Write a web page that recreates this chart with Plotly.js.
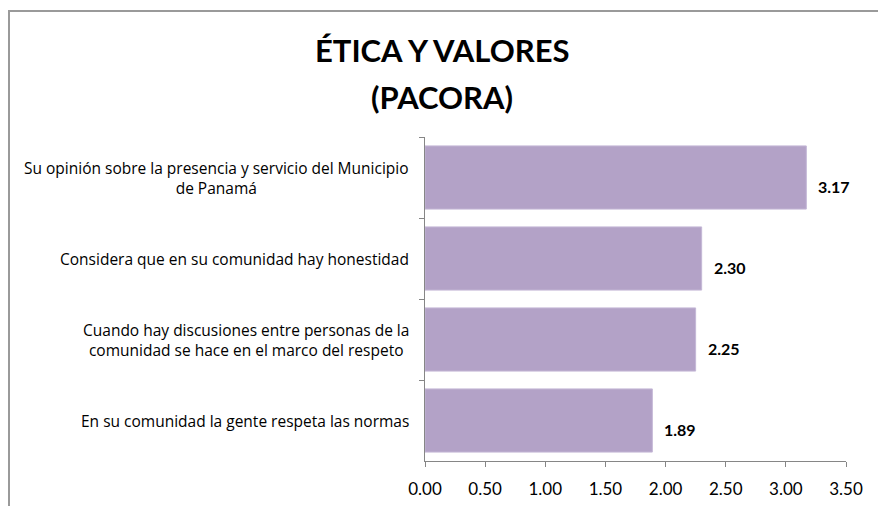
<!DOCTYPE html>
<html>
<head>
<meta charset="utf-8">
<script src="https://cdn.plot.ly/plotly-3.0.1.min.js"></script>
<style>
html,body{margin:0;padding:0;background:#fff;overflow:hidden;}
#wrap{position:relative;width:878px;height:506px;}
#chart{width:878px;height:506px;}
#frame{position:absolute;left:8px;top:10px;width:900px;height:520px;border-left:2px solid #9a9a9a;border-top:2px solid #9a9a9a;pointer-events:none;}
</style>
</head>
<body>
<div id="wrap"><div id="chart"></div><div id="frame"></div></div>
<script>
const categories = [
  "Su opinión sobre la presencia y servicio del Municipio<br>de Panamá",
  "Considera que en su comunidad hay honestidad",
  "Cuando hay discusiones entre personas de la<br>comunidad se hace en el marco del respeto",
  "En su comunidad la gente respeta las normas"
];
const values = [3.17, 2.30, 2.25, 1.89];
const tickVals = [0, 0.5, 1, 1.5, 2, 2.5, 3, 3.5];
const tickText = ["0.00","0.50","1.00","1.50","2.00","2.50","3.00","3.50"];
const titleLines = ["ÉTICA Y VALORES", "(PACORA)"];

const FONT = "Lato, 'Open Sans', sans-serif";
const LABFONT = "'Open Sans', sans-serif";
const ids = categories.map((c, i) => "c" + i);

const trace = {
  type: "bar",
  orientation: "h",
  x: values,
  y: ids,
  marker: {color: "#b3a2c7", line: {color: "#c4b7d6", width: 1}},
  width: 0.78,
  hoverinfo: "skip",
  cliponaxis: false
};

const annotations = [];
categories.forEach((c, i) => {
  annotations.push({
    xref: "paper", yref: "y", x: 0, y: ids[i], xanchor: "right", yanchor: "middle",
    xshift: -14, text: c, showarrow: false, align: "center",
    font: {family: LABFONT, size: 15.5, color: "#000"}
  });
  annotations.push({
    xref: "x", yref: "y", x: values[i], y: ids[i], xanchor: "left", yanchor: "middle",
    xshift: 10, yshift: -9, text: "<b>" + values[i].toFixed(2) + "</b>", showarrow: false,
    font: {family: FONT, size: 16, color: "#000"}
  });
});
const titleY = [1.2685, 1.1235];
titleLines.forEach((t, i) => {
  annotations.push({
    xref: "paper", yref: "paper", x: 0.040, y: titleY[i], xanchor: "center", yanchor: "middle",
    text: "<b>" + t + "</b>", showarrow: false,
    font: {family: FONT, size: 31, color: "#000"}
  });
});

const layout = {
  width: 878, height: 506,
  margin: {l: 425, r: 32, t: 137, b: 45},
  paper_bgcolor: "#fff", plot_bgcolor: "#fff",
  showlegend: false,
  xaxis: {range: [0, 3.5], tickvals: tickVals, ticktext: tickText, showgrid: false, zeroline: false,
          showline: true, linecolor: "#868686", linewidth: 1, ticks: "outside", ticklen: 5,
          tickcolor: "#868686", ticklabelstandoff: 8, tickfont: {family: FONT, size: 17, color: "#000"}, fixedrange: true},
  yaxis: {type: "category", autorange: "reversed", showticklabels: false, showgrid: false,
          zeroline: false, showline: true, linecolor: "#868686", linewidth: 1, ticks: "outside",
          ticklen: 5, tickcolor: "#868686", tickson: "boundaries", fixedrange: true},
  annotations: annotations,
  bargap: 0.22
};

Plotly.newPlot("chart", [trace], layout, {displayModeBar: false, staticPlot: true});
</script>
</body>
</html>
